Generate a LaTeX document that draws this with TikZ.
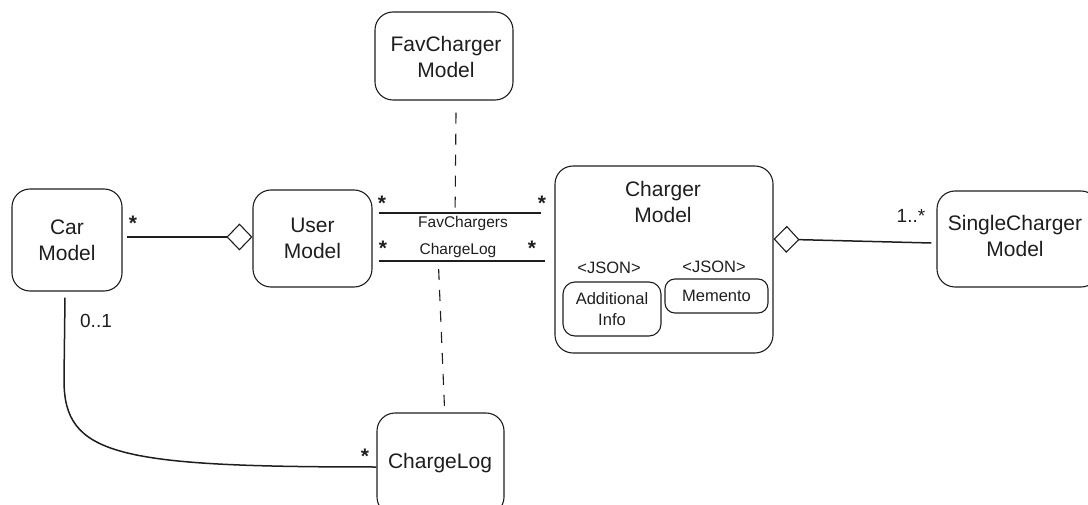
\documentclass[tikz,border=0pt]{standalone}
\usepackage{fontspec}
\setmainfont{Liberation Sans}
\usetikzlibrary{arrows.meta}
\definecolor{ink}{HTML}{1E1E1E}
\tikzset{
  box/.style={draw=ink, line width=1.1pt, rounded corners=18pt, inner sep=0pt},
  title/.style={text=ink, align=center, font=\fontsize{21}{26}\selectfont},
  small/.style={text=ink, align=center, font=\fontsize{16.5}{21}\selectfont},
  assoc/.style={text=ink, font=\fontsize{15.5}{18}\selectfont},
  mult/.style={text=ink, font=\fontsize{19}{20}\selectfont},
  star/.style={text=ink, font=\fontsize{21}{20}\selectfont\bfseries},
  link/.style={draw=ink, line width=1.1pt},
  heavy/.style={draw=ink, line width=1.5pt},
  dashlink/.style={draw=ink, line width=1.1pt, dash pattern=on 11pt off 10pt},
  agg/.style={-{Diamond[open, fill=white, length=26pt, width=27pt, line width=1.1pt]}},
}
\begin{document}
\begin{tikzpicture}[x=1pt, y=-1pt]
\useasboundingbox (0,0) rectangle (1088,505);
\begin{scope}
\clip (0,0) rectangle (1088,505);

% classes
\node[box, minimum width=110pt, minimum height=102pt] (car) at (67,240) {};
\node[title] (carT) at (67,240) {Car\\Model};

\node[box, minimum width=119pt, minimum height=97pt] (user) at (312.5,238.5) {};
\node[title] (userT) at (312.5,238.5) {User\\Model};

\node[box, minimum width=138pt, minimum height=88pt] (fav) at (444,56) {};
\node[title] (favT) at (446,57) {FavCharger\\Model};

\node[box, minimum width=218pt, minimum height=187pt] (charger) at (664,259.5) {};
\node[title] (chargerT) at (663,202) {Charger\\Model};
\node[small] (jsonA) at (609,268) {<JSON>};
\node[small] (jsonB) at (714,267) {<JSON>};
\node[box, rounded corners=12pt, minimum width=98pt, minimum height=54pt] (info) at (612,309) {};
\node[small] (infoT) at (612,309) {Additional\\Info};
\node[box, rounded corners=10pt, minimum width=103pt, minimum height=34pt] (memento) at (716.5,296) {};
\node[small] (mementoT) at (716.5,296) {Memento};

\node[box, minimum width=162pt, minimum height=96pt] (single) at (1018,239) {};
\node[title] (singleT) at (1015,236) {SingleCharger\\Model};

\node[box, minimum width=127pt, minimum height=102pt] (log) at (440.5,464) {};
\node[title] (logT) at (440,463) {ChargeLog};

% Car -- User aggregation
\draw[link, agg] ([xshift=4pt,yshift=3pt]car.east) -- ([yshift=1.5pt]user.west);
\node[star] (mCar) at (133,223) {*};

% User -- Charger associations
\draw[heavy] ([xshift=6pt,yshift=25.5pt]user.east) -- ([xshift=-13pt,yshift=46.5pt]charger.west)
  coordinate[pos=0.47] (favMid);
\draw[heavy] ([xshift=6pt,yshift=-22.5pt]user.east) -- ([xshift=-9pt,yshift=-1.5pt]charger.west)
  coordinate[pos=0.36] (logMid);
\node[star] (m1) at (382,203) {*};
\node[star] (m2) at (542,203) {*};
\node[assoc] (favLbl) at (463,223) {FavChargers};
\node[star] (m3) at (383,248) {*};
\node[star] (m4) at (532,248) {*};
\node[assoc] (logLbl) at (458,250) {ChargeLog};

% association classes
\draw[dashlink] ([xshift=12pt,yshift=-12pt]fav.south) -- ([yshift=4pt]favMid);
\draw[dashlink] ([yshift=-8pt]logMid) -- ([xshift=4pt,yshift=5pt]log.north);

% Charger -- SingleCharger aggregation
\draw[heavy, agg] ([xshift=-5pt,yshift=-4pt]single.west) -- (charger.east |- single.west);
\node[mult] (mSingle) at (911,216) {1..*};

% Car -- ChargeLog
\draw[heavy] ([xshift=-2pt,yshift=-6pt]car.south) -- (64,380)
  .. controls (64,455) and (115,467) .. ([yshift=-3pt]log.west);
\node[mult] (mCarLog) at (96,321) {0..1};
\node[star] (mLog) at (365,456) {*};
\end{scope}
\end{tikzpicture}
\end{document}
